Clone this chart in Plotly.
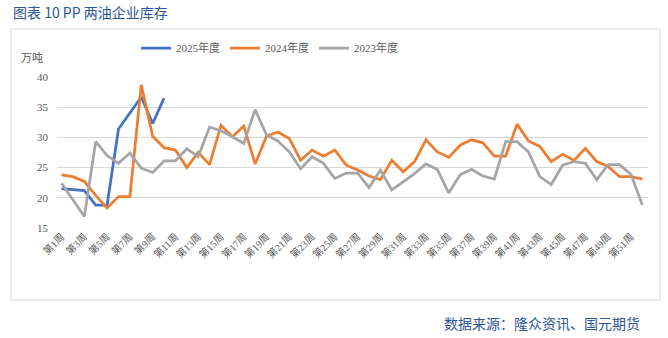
import plotly.graph_objects as go

# Weekly PP inventory at the two major oil producers (10k tonnes)
weeks = [f"第{i}周" for i in range(1, 53)]

inv_2025 = [21.5, 21.3, 21.2, 18.8, 18.8, 31.4, 34.0, 36.7, 32.3, 36.5]

inv_2024 = [23.8, 23.5, 22.7, 20.4, 18.3, 20.2, 20.2, 38.7, 30.2, 28.3,
            27.9, 25.0, 27.5, 25.5, 32.0, 30.1, 31.9, 25.6, 30.2, 30.9,
            29.8, 26.2, 27.9, 26.9, 27.9, 25.4, 24.6, 23.6, 23.0, 26.2,
            24.3, 26.0, 29.6, 27.6, 26.7, 28.7, 29.6, 29.1, 26.9, 26.9,
            32.2, 29.4, 28.5, 26.0, 27.2, 26.2, 28.2, 26.0, 25.2, 23.5,
            23.5, 23.1]

inv_2023 = [22.4, 19.6, 16.9, 29.3, 27.0, 25.7, 27.4, 24.9, 24.2, 26.1,
            26.1, 28.1, 26.8, 31.7, 31.1, 30.1, 29.0, 34.6, 30.4, 29.4,
            27.6, 24.8, 26.8, 25.7, 23.2, 24.1, 24.1, 21.7, 24.6, 21.3,
            22.7, 24.0, 25.6, 24.7, 20.8, 23.8, 24.7, 23.6, 23.1, 29.3,
            29.3, 27.6, 23.5, 22.2, 25.4, 26.0, 25.7, 23.0, 25.5, 25.5,
            23.9, 18.8]

y_ticks = [15, 20, 25, 30, 35, 40]

W, H = 668, 338
ML, MR, MT, MB = 57, 20, 77, 110
PW, PH = W - ML - MR, H - MT - MB


def px(x):
    return (x - ML) / PW


def py(y):
    return (H - MB - y) / PH


serif = "Liberation Serif, Noto Sans CJK SC, serif"
sans = "Noto Sans CJK SC, Microsoft YaHei, sans-serif"

fig = go.Figure()
series = [
    ("2025年度", inv_2025, "#4472C4"),
    ("2024年度", inv_2024, "#ED7D31"),
    ("2023年度", inv_2023, "#A5A5A5"),
]
for name, vals, color in series:
    fig.add_trace(go.Scatter(
        x=weeks[:len(vals)], y=vals, name=name, mode="lines",
        line=dict(color=color, width=2.75),
    ))

fig.update_layout(
    width=W, height=H,
    margin=dict(l=ML, r=MR, t=MT, b=MB),
    paper_bgcolor="white", plot_bgcolor="white",
    showlegend=True,
    legend=dict(
        orientation="h", x=px(136), y=py(48), xanchor="left", yanchor="middle",
        font=dict(family=serif, size=11, color="#595959"),
        itemwidth=30, tracegroupgap=0, bgcolor="rgba(0,0,0,0)",
    ),
    xaxis=dict(
        type="category", categoryorder="array", categoryarray=weeks,
        range=[-0.4, 51.5],
        tickmode="array", tickvals=weeks[::2], ticktext=weeks[::2],
        tickangle=-45, tickfont=dict(family=serif, size=10, color="#595959"),
        showgrid=False, showline=False, zeroline=False, ticks="",
    ),
    yaxis=dict(
        range=[15, 40], tickvals=y_ticks,
        tickfont=dict(family=serif, size=11, color="#595959"),
        showgrid=True, gridcolor="#D9D9D9", gridwidth=1,
        zeroline=False, showline=False, ticks="",
        ticklabelstandoff=8,
    ),
    shapes=[
        dict(type="rect", xref="paper", yref="paper",
             x0=px(11), x1=px(660), y0=py(300), y1=py(29),
             line=dict(color="#D9D9D9", width=1), fillcolor="rgba(0,0,0,0)",
             layer="below"),
    ],
    annotations=[
        dict(text="图表 10 PP 两油企业库存", xref="paper", yref="paper",
             x=px(11), y=py(12), xanchor="left", yanchor="middle",
             showarrow=False, font=dict(family=sans, size=14, color="#2E5597")),
        dict(text="万吨", xref="paper", yref="paper",
             x=px(19), y=py(58), xanchor="left", yanchor="middle",
             showarrow=False, font=dict(family=serif, size=11, color="#595959")),
        dict(text="数据来源：隆众资讯、国元期货", xref="paper", yref="paper",
             x=px(642), y=py(323), xanchor="right", yanchor="middle",
             showarrow=False, font=dict(family=sans, size=14, color="#2E5597")),
    ],
)

fig.write_html("out.html")
